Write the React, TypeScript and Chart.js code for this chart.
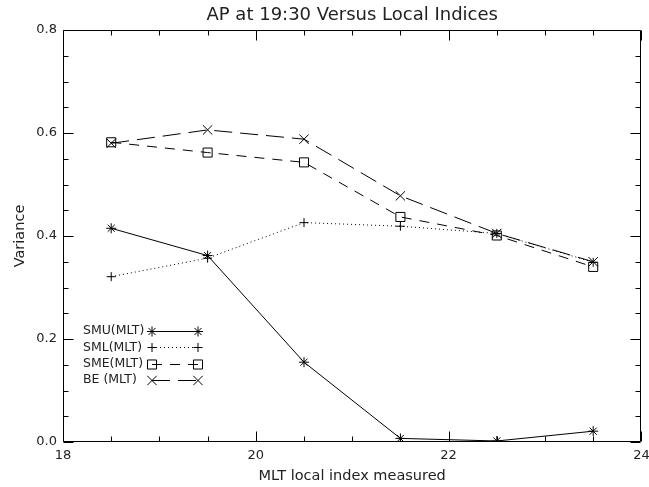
import React, { useEffect, useRef } from 'react';
import { Chart, registerables } from 'chart.js';

Chart.register(...registerables);

const mltHours = [18.5, 19.5, 20.5, 21.5, 22.5, 23.5];
const smuValues = [0.415, 0.362, 0.155, 0.007, 0.002, 0.021];
const smlValues = [0.321, 0.357, 0.426, 0.419, 0.405, 0.349];
const smeValues = [0.582, 0.562, 0.543, 0.437, 0.401, 0.34];
const beValues = [0.58, 0.606, 0.588, 0.478, 0.405, 0.35];
const seriesLabels = ['SMU(MLT)', 'SML(MLT)', 'SME(MLT)', 'BE (MLT)'];
const xTickValues = [18, 20, 22, 24];
const yTickValues = [0, 0.2, 0.4, 0.6, 0.8];
const titleText = 'AP at 19:30 Versus Local Indices';
const xTitleText = 'MLT local index measured';
const yTitleText = 'Variance';

const FONT = "'DejaVu Sans', sans-serif";
const INK = '#222';

type Style = { dash: number[]; point: string; radius: number };
const styles: Style[] = [
  { dash: [], point: 'star', radius: 5 },
  { dash: [1, 3], point: 'cross', radius: 4.5 },
  { dash: [10, 8], point: 'rect', radius: 6.4 },
  { dash: [18, 8], point: 'crossRot', radius: 6.6 },
];

function drawMarker(ctx: CanvasRenderingContext2D, style: string, cx: number, cy: number, r: number) {
  ctx.beginPath();
  if (style === 'star' || style === 'cross') {
    ctx.moveTo(cx - r, cy); ctx.lineTo(cx + r, cy);
    ctx.moveTo(cx, cy - r); ctx.lineTo(cx, cy + r);
  }
  if (style === 'star' || style === 'crossRot') {
    const d = r * Math.SQRT1_2;
    ctx.moveTo(cx - d, cy - d); ctx.lineTo(cx + d, cy + d);
    ctx.moveTo(cx - d, cy + d); ctx.lineTo(cx + d, cy - d);
  }
  if (style === 'rect') {
    const s = r * Math.SQRT1_2;
    ctx.rect(cx - s, cy - s, 2 * s, 2 * s);
  }
  ctx.stroke();
}

const framePlugin = {
  id: 'frameTicks',
  afterDatasetsDraw(chart: any) {
    const { ctx, chartArea } = chart;
    const xs = chart.scales.x;
    const ys = chart.scales.y;
    const L = Math.round(chartArea.left) + 0.5;
    const R = Math.round(chartArea.right) - 0.5;
    const T = Math.round(chartArea.top) + 0.5;
    const B = Math.round(chartArea.bottom) - 0.5;
    ctx.save();
    ctx.strokeStyle = '#000';
    ctx.lineWidth = 1;
    ctx.setLineDash([]);
    ctx.beginPath();
    ctx.rect(L, T, R - L, B - T);
    for (let v = xs.min; v <= xs.max + 1e-9; v += 0.5) {
      const major = xTickValues.some((t) => Math.abs(t - v) < 1e-6);
      const len = major ? 10 : 5;
      const px = Math.round(xs.getPixelForValue(v)) + 0.5;
      ctx.moveTo(px, B); ctx.lineTo(px, B - len);
      ctx.moveTo(px, T); ctx.lineTo(px, T + len);
    }
    for (let i = 0; i <= 16; i++) {
      const v = ys.min + i * 0.05;
      const major = yTickValues.some((t) => Math.abs(t - v) < 1e-6);
      const len = major ? 10 : 5;
      const py = Math.round(ys.getPixelForValue(v)) + 0.5;
      ctx.moveTo(L, py); ctx.lineTo(L + len, py);
      ctx.moveTo(R, py); ctx.lineTo(R - len, py);
    }
    ctx.stroke();

    // legend
    ctx.font = `12.5px ${FONT}`;
    ctx.fillStyle = INK;
    ctx.textBaseline = 'middle';
    ctx.textAlign = 'left';
    const x0 = 83;
    const lx1 = 152;
    const lx2 = 198;
    seriesLabels.forEach((label, i) => {
      const yy = 331 + i * 16.3;
      ctx.fillText(label, x0, yy);
      const st = styles[i];
      ctx.setLineDash(st.dash);
      ctx.beginPath();
      ctx.moveTo(lx1, Math.round(yy) + 0.5);
      ctx.lineTo(lx2, Math.round(yy) + 0.5);
      ctx.stroke();
      ctx.setLineDash([]);
      drawMarker(ctx, st.point, lx1, Math.round(yy) + 0.5, st.radius);
      drawMarker(ctx, st.point, lx2, Math.round(yy) + 0.5, st.radius);
    });
    ctx.restore();
  },
};

export default function App() {
  const ref = useRef<HTMLCanvasElement | null>(null);
  useEffect(() => {
    document.body.style.margin = '0';
    const canvas = ref.current;
    if (!canvas) return;
    const allValues = [smuValues, smlValues, smeValues, beValues];
    const chart = new Chart(canvas, {
      type: 'line',
      data: {
        datasets: allValues.map((vals, i) => ({
          label: seriesLabels[i],
          data: mltHours.map((h, j) => ({ x: h, y: vals[j] })),
          borderColor: '#000',
          borderWidth: 1,
          borderDash: styles[i].dash,
          pointStyle: styles[i].point as any,
          pointRadius: styles[i].radius,
          pointBorderColor: '#000',
          pointBackgroundColor: 'rgba(0,0,0,0)',
          pointBorderWidth: 1,
          fill: false,
          tension: 0,
        })),
      },
      options: {
        animation: false,
        responsive: false,
        devicePixelRatio: 1,
        layout: { padding: { top: 0, right: 4, bottom: 0, left: 0 } },
        plugins: {
          legend: { display: false },
          tooltip: { enabled: false },
          title: {
            display: true,
            text: titleText,
            fullSize: false,
            color: INK,
            font: { family: FONT, size: 18, weight: 'normal' },
            padding: { top: 5, bottom: 3.4 },
          },
        },
        scales: {
          x: {
            type: 'linear',
            min: 18,
            max: 24,
            grid: { display: false, drawTicks: false },
            border: { display: false },
            ticks: {
              stepSize: 2,
              color: INK,
              font: { family: FONT, size: 13 },
              padding: 6,
              maxRotation: 0,
              autoSkip: false,
              callback: (v: any) => String(v),
            },
            title: {
              display: true,
              text: xTitleText,
              color: INK,
              font: { family: FONT, size: 14.5 },
              padding: { top: 0, bottom: 2 },
            },
            afterFit: (s: any) => {
              s.height = 45;
              s.paddingLeft = 0;
              s.paddingRight = 0;
            },
          },
          y: {
            type: 'linear',
            min: 0,
            max: 0.8,
            grid: { display: false, drawTicks: false },
            border: { display: false },
            ticks: {
              stepSize: 0.2,
              color: INK,
              font: { family: FONT, size: 13 },
              padding: 6,
              callback: (v: any) => Number(v).toFixed(1),
            },
            title: {
              display: true,
              text: yTitleText,
              color: INK,
              font: { family: FONT, size: 14.5 },
              padding: { top: 12, bottom: 0 },
            },
            afterFit: (s: any) => {
              s.width = 63;
              s.paddingTop = 0;
              s.paddingBottom = 0;
            },
          },
        },
      },
      plugins: [framePlugin],
    });
    return () => chart.destroy();
  }, []);
  return (
    <div style={{ position: 'absolute', left: 0, top: 0, width: 649, height: 487, background: '#fff' }}>
      <canvas ref={ref} width={649} height={487} />
    </div>
  );
}
